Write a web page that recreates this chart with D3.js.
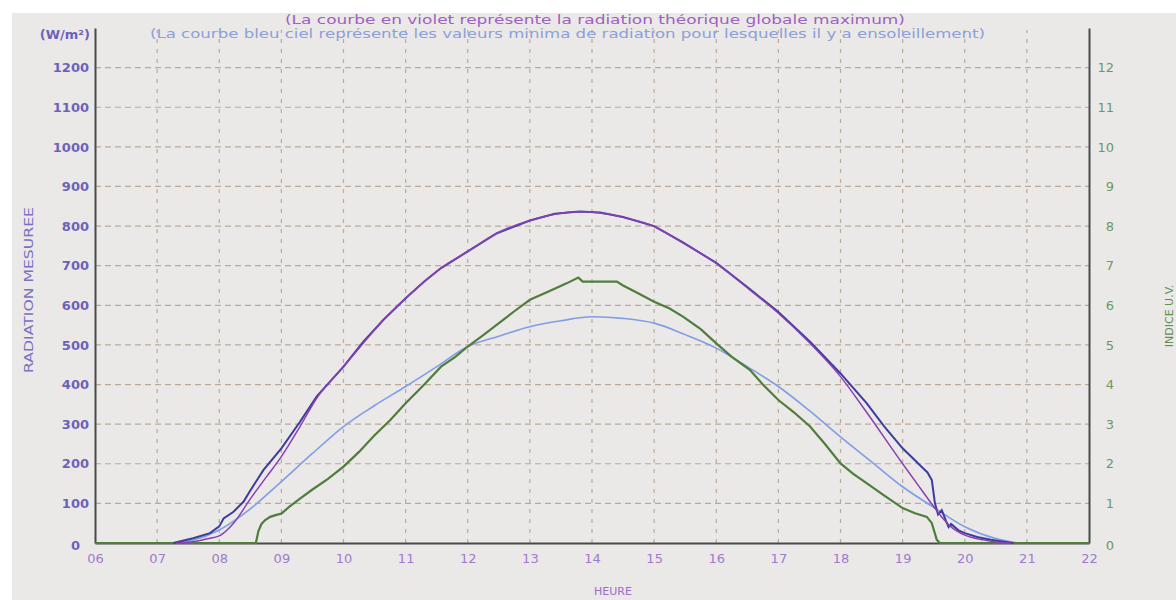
<!DOCTYPE html>
<html>
<head>
<meta charset="utf-8">
<script src="https://cdn.jsdelivr.net/npm/d3@7"></script>
<style>
  body { margin: 0; background: #fff; }
  svg { display: block; font-family: "DejaVu Sans", Verdana, sans-serif; }
</style>
</head>
<body>
<div id="chart"></div>
<script>
// tick values
const hourTicks = d3.range(6, 23);
const radTicks = d3.range(0, 1300, 100);
const uvTicks = d3.range(0, 13);

// theoretical max radiation (violet), hours as decimals
const maxHours = [7.3, 7.6, 7.85, 8.0, 8.23, 8.49, 8.75, 9.0, 9.3, 9.57, 10.0, 10.32, 10.64, 11.0, 11.57, 12.0, 12.47, 13.0, 13.4, 13.8, 14.13, 14.5, 15.0, 15.47, 16.0, 16.54, 17.0, 17.51, 18.0, 18.42, 19.0, 19.3, 19.5, 19.65, 19.8, 20.0, 20.3, 20.55, 20.75];
const maxValues = [0, 4, 12, 18, 50, 109, 165, 218, 294, 366, 445, 505, 563, 618, 694, 736, 782, 814, 830, 836, 833, 822, 799, 757, 706, 639, 580, 504, 420, 330, 200, 135, 92, 62, 38, 20, 8, 2, 0];

// measured radiation (dark blue)
const measHours = [7.26, 7.58, 7.85, 8.0, 8.07, 8.23, 8.39, 8.49, 8.71, 9.0, 9.3, 9.57, 10.0, 10.32, 10.64, 11.0, 11.3, 11.57, 12.0, 12.47, 13.0, 13.4, 13.8, 14.13, 14.5, 15.0, 15.47, 16.0, 16.54, 17.0, 17.51, 18.0, 18.42, 18.7, 19.0, 19.3, 19.4, 19.47, 19.52, 19.57, 19.63, 19.7, 19.74, 19.78, 19.9, 20.0, 20.2, 20.42, 20.6, 20.78];
const measValues = [0, 12, 25, 42, 62, 79, 104, 130, 184, 239, 306, 370, 445, 508, 563, 618, 660, 694, 736, 782, 814, 831, 837, 834, 823, 800, 758, 707, 641, 583, 508, 428, 353, 295, 239, 193, 178, 159, 100, 72, 83, 55, 40, 48, 32, 25, 15, 8, 4, 0];

// minimum radiation with sunshine (light blue)
const minHours = [7.3, 7.6, 8.0, 8.49, 9.0, 9.5, 10.0, 10.5, 11.0, 11.5, 12.0, 12.5, 13.0, 13.5, 14.0, 14.5, 15.0, 15.5, 16.0, 16.5, 17.0, 17.5, 18.0, 18.5, 19.0, 19.5, 20.0, 20.5, 20.85];
const minValues = [0, 8, 33, 85, 155, 226, 294, 347, 395, 445, 496, 522, 546, 561, 571, 567, 555, 526, 492, 445, 395, 334, 268, 205, 142, 90, 41, 11, 0];

// UV index (green, right axis)
const uvHours = [6, 8.59, 8.63, 8.68, 8.74, 8.82, 8.92, 9.0, 9.13, 9.3, 9.5, 9.75, 10.0, 10.25, 10.5, 10.75, 11.0, 11.3, 11.57, 11.8, 12.0, 12.25, 12.47, 12.75, 13.0, 13.3, 13.6, 13.78, 13.85, 14.4, 14.5, 14.75, 15.0, 15.25, 15.47, 15.75, 16.0, 16.25, 16.54, 16.75, 17.0, 17.25, 17.51, 17.75, 18.0, 18.2, 18.42, 18.7, 19.0, 19.2, 19.39, 19.47, 19.55, 19.6, 22];
const uvValues = [0, 0, 0.3, 0.48, 0.58, 0.66, 0.71, 0.74, 0.92, 1.12, 1.35, 1.62, 1.93, 2.3, 2.72, 3.1, 3.53, 4.0, 4.45, 4.7, 4.96, 5.25, 5.51, 5.85, 6.14, 6.35, 6.56, 6.7, 6.6, 6.6, 6.5, 6.3, 6.09, 5.92, 5.71, 5.4, 5.04, 4.7, 4.37, 4.0, 3.61, 3.3, 2.94, 2.5, 2.01, 1.75, 1.51, 1.2, 0.88, 0.75, 0.66, 0.5, 0.08, 0, 0];

const width = 1176, height = 600;

const svg = d3.select('#chart')
    .append('svg')
    .attr('width', width)
    .attr('height', height);

// grey panel
svg.append('rect')
    .attr('x', 12).attr('y', 13)
    .attr('width', width - 12).attr('height', height - 13)
    .attr('fill', '#ebe8e8');

const x = d3.scaleLinear().domain([6, 22]).range([95, 1089]);
const yRad = d3.scaleLinear().domain([0, 1300]).range([543, 28]);
const yUv = d3.scaleLinear().domain([0, 13]).range([543, 28]);

// dashed grid
const grid = svg.append('g').attr('stroke', '#bba999').attr('stroke-width', 1.2).attr('fill', 'none');
grid.selectAll('.h')
    .data(radTicks.filter(d => d > 0))
    .join('line')
    .attr('x1', x(6)).attr('x2', x(22))
    .attr('y1', d => yRad(d)).attr('y2', d => yRad(d))
    .attr('stroke-dasharray', '6,4');
grid.selectAll('.v')
    .data(hourTicks.filter(d => d > 6 && d < 22))
    .join('line')
    .attr('x1', d => x(d)).attr('x2', d => x(d))
    .attr('y1', yRad(0)).attr('y2', 30)
    .attr('stroke-dasharray', '4,6');

// axes
const axisL = svg.append('g')
    .attr('transform', `translate(${x(6)},0)`)
    .call(d3.axisLeft(yRad).tickValues(radTicks).tickSize(0).tickSizeOuter(0).tickPadding(6)
        .tickFormat(d3.format('d')));
axisL.selectAll('text')
    .attr('font-family', '"DejaVu Sans", Verdana, sans-serif')
    .attr('font-size', 13).attr('font-weight', 'bold').attr('fill', '#6b62b8');
axisL.selectAll('.tick').filter(d => d === 0).select('text').attr('x', -15).attr('dy', '0.5em');

const axisR = svg.append('g')
    .attr('transform', `translate(${x(22)},0)`)
    .call(d3.axisRight(yUv).tickValues(uvTicks).tickSize(0).tickSizeOuter(0).tickPadding(8));
axisR.selectAll('text')
    .attr('font-family', '"DejaVu Sans", Verdana, sans-serif')
    .attr('font-size', 13).attr('fill', '#6c9a5c')
    .attr('text-anchor', 'end').attr('x', 25);
axisR.selectAll('.tick').filter(d => d === 0).select('text').attr('dy', '0.5em');

const axisB = svg.append('g')
    .attr('transform', `translate(0,${yRad(0)})`)
    .call(d3.axisBottom(x).tickValues(hourTicks).tickSize(0).tickSizeOuter(0).tickPadding(11)
        .tickFormat(d => String(d).padStart(2, '0')));
axisB.selectAll('text')
    .attr('font-family', '"DejaVu Sans", Verdana, sans-serif')
    .attr('font-size', 13).attr('fill', '#9f7bcb');

[axisL, axisR, axisB].forEach(a => a.select('.domain').attr('stroke', '#4a4a4a').attr('stroke-width', 2));

// series
const radLine = (hours, values, curve) => d3.line()
    .x((d, i) => x(hours[i]))
    .y(d => yRad(d))
    .curve(curve)(values);

svg.append('path')
    .attr('d', radLine(minHours, minValues, d3.curveMonotoneX))
    .attr('fill', 'none').attr('stroke', '#7f9ee6').attr('stroke-width', 1.6);

svg.append('path')
    .attr('d', d3.line().x((d, i) => x(uvHours[i])).y(d => yUv(d))(uvValues))
    .attr('fill', 'none').attr('stroke', '#4f7d3c').attr('stroke-width', 2.2);

svg.append('path')
    .attr('d', radLine(measHours, measValues, d3.curveLinear))
    .attr('fill', 'none').attr('stroke', '#3c3c9c').attr('stroke-width', 2);

svg.append('path')
    .attr('d', radLine(maxHours, maxValues, d3.curveMonotoneX))
    .attr('fill', 'none').attr('stroke', '#8a40b0').attr('stroke-width', 1.5);

// texts
svg.append('text')
    .attr('x', 285).attr('y', 24)
    .attr('font-size', 12).attr('fill', '#a05fc2')
    .attr('textLength', 620).attr('lengthAdjust', 'spacingAndGlyphs')
    .text('(La courbe en violet représente la radiation théorique globale maximum)');

svg.append('text')
    .attr('x', 150).attr('y', 38)
    .attr('font-size', 12).attr('fill', '#8ba0d8')
    .attr('textLength', 835).attr('lengthAdjust', 'spacingAndGlyphs')
    .text('(La courbe bleu ciel représente les valeurs minima de radiation pour lesquelles il y a ensoleillement)');

svg.append('text')
    .attr('x', 90).attr('y', 39)
    .attr('text-anchor', 'end')
    .attr('font-size', 13).attr('font-weight', 'bold').attr('fill', '#6b62b8')
    .text('(W/m²)');

svg.append('text')
    .attr('transform', 'translate(33,290) rotate(-90)')
    .attr('text-anchor', 'middle')
    .attr('font-size', 12).attr('fill', '#7a70c4')
    .attr('textLength', 166).attr('lengthAdjust', 'spacingAndGlyphs')
    .text('RADIATION MESUREE');

svg.append('text')
    .attr('transform', 'translate(1173,316) rotate(-90)')
    .attr('text-anchor', 'middle')
    .attr('font-size', 11).attr('fill', '#5f8f4f')
    .text('INDICE U.V.');

svg.append('text')
    .attr('x', 613).attr('y', 595)
    .attr('text-anchor', 'middle')
    .attr('font-size', 11).attr('fill', '#9b6fc6')
    .text('HEURE');
</script>
</body>
</html>
